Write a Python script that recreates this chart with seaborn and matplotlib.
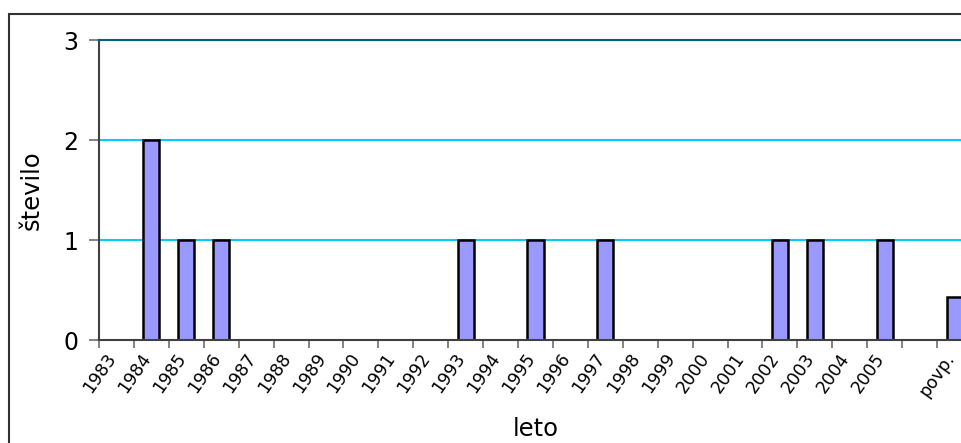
import numpy as np
import pandas as pd
import matplotlib.pyplot as plt
import matplotlib.transforms as mtransforms
import seaborn as sns
from matplotlib.patches import Rectangle
from matplotlib.ticker import FixedLocator

sns.set_theme(style="white")
plt.rcParams['font.family'] = ['DejaVu Sans']
plt.rcParams['text.color'] = 'black'
plt.rcParams['axes.labelcolor'] = 'black'
plt.rcParams['xtick.color'] = 'black'
plt.rcParams['ytick.color'] = 'black'

# data
leta = ['1983', '1984', '1985', '1986', '1987', '1988', '1989', '1990', '1991',
        '1992', '1993', '1994', '1995', '1996', '1997', '1998', '1999', '2000',
        '2001', '2002', '2003', '2004', '2005', '', 'povp.']
stevilo = [0, 2, 1, 1, 0, 0, 0, 0, 0, 0, 1, 0, 1, 0, 1, 0, 0, 0, 0, 1, 1, 0, 1, np.nan, 0.43]

df = pd.DataFrame({'leto': leta, 'stevilo': stevilo})
# zero years are drawn as no bar at all
df['visina'] = df['stevilo'].replace(0, np.nan)

fig = plt.figure(figsize=(9.62, 4.43), dpi=100)
ax = fig.add_axes([99 / 962, 103 / 443, 873 / 962, 300 / 443])

sns.barplot(data=df, x='leto', y='visina', order=leta, color='#9999FF',
            saturation=1, width=0.46, edgecolor='black', linewidth=1.8, ax=ax)

ax.set_xlim(-0.5, len(leta) - 0.5)
ax.set_ylim(0, 3)
ax.set_yticks([0, 1, 2, 3])

# gridlines
for v in [1, 2]:
    ax.axhline(v, color='#00CCFF', linewidth=1.5, zorder=0)

for s in ['left', 'bottom']:
    ax.spines[s].set_color('#404040')
    ax.spines[s].set_linewidth(1.5)
ax.spines['top'].set_color('#006080')
ax.spines['top'].set_linewidth(1.5)
ax.spines['right'].set_visible(False)

ax.tick_params(axis='y', which='major', length=7, width=1.2, color='#707070',
               labelsize=17, pad=8, left=True)
ax.tick_params(axis='x', which='major', length=0, labelsize=12.5, pad=11)
ax.xaxis.set_minor_locator(FixedLocator(np.arange(len(leta) + 1) - 0.5))
ax.tick_params(axis='x', which='minor', length=6, width=1.2, color='#707070',
               bottom=True)

shift = mtransforms.ScaledTranslation(-4 / 100, 0, fig.dpi_scale_trans)
for lab in ax.get_xticklabels():
    lab.set_rotation(55)
    lab.set_ha('right')
    lab.set_va('center')
    lab.set_rotation_mode('anchor')
    lab.set_transform(lab.get_transform() + shift)

ax.set_xlabel('leto', fontsize=17.5, labelpad=12)
ax.set_ylabel('število', fontsize=17.5, labelpad=14)

# chart area border
fig.patches.append(Rectangle((9 / 962, -0.1), 2, (443 - 14) / 443 + 0.1,
                             transform=fig.transFigure, fill=False,
                             edgecolor='#333333', linewidth=1.5))

fig.savefig('out.png', dpi=100)
